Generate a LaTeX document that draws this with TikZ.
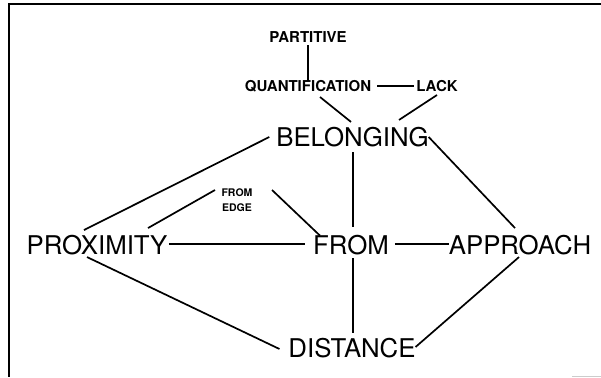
\documentclass[tikz,border=0pt]{standalone}
\usepackage{fontspec}
\setmainfont{TeX Gyre Heros}
\usetikzlibrary{calc}
\begin{document}
\begin{tikzpicture}[x=1pt,y=-1pt,
  big/.style={inner sep=0pt, outer sep=0pt, font=\fontsize{25.8}{30}\selectfont, text height=18.7pt, text depth=0pt},
  small/.style={inner sep=0pt, outer sep=0pt, font=\bfseries\fontsize{15}{18}\selectfont, text height=10.8pt, text depth=0pt},
  tiny/.style={inner sep=0pt, outer sep=0pt, font=\bfseries\fontsize{10.5}{15}\selectfont, align=center},
  link/.style={line width=1.7pt},
  frame/.style={line width=1.8pt}]
\useasboundingbox (0,0) rectangle (601,377);
% frame
\draw[frame] (8,4) -- (601,4);
\draw[frame] (9,4) -- (9,377);
\draw[gray!40, line width=0.8pt] (572,376) -- (601,376);
% nodes
\node[small] (part) at (308,37) {PARTITIVE};
\node[small] (quant) at (308,86) {QUANTIFICATION};
\node[small] (lack) at (437,86) {LACK};
\node[big] (bel) at (352.5,137) {BELONGING};
\node[tiny] (fe) at (237,200) {FROM\\EDGE};
\node[big] (prox) at (97,245) {PROXIMITY};
\node[big] (from) at (351,245) {FROM};
\node[big] (app) at (520,245) {APPROACH};
\node[big] (dist) at (352,348) {DISTANCE};
% connectors
\draw[link] ($(part.south)+(0,3)$) -- (quant.north);
\draw[link] ($(quant.east)+(6,0)$) -- ($(lack.west)+(-2,0)$);
\draw[link] ($(quant.south)+(12,5.6)$) -- ($(bel.north)+(-1.5,-5.7)$);
\draw[link] ($(lack.south)+(0,3.6)$) -- ($(bel.north)+(46.5,-7.7)$);
\draw[link] ($(bel.west)+(-7,0)$) -- ($(prox.north)+(-13,-5.6)$);
\draw[link] (bel.east) -- ($(app.north)+(-5,-7.6)$);
\draw[link] ($(bel.south)+(0.5,5.7)$) -- ($(from.north)+(2,-8.6)$);
\draw[link] ($(fe.center)+(-22,-10)$) -- ($(prox.north)+(51,-7.6)$);
\draw[link] ($(fe.center)+(35,-10)$) -- ($(from.north)+(-31,0)$);
\draw[link] ($(prox.east)+(1.5,-1)$) -- ($(from.west)+(-8,-1)$);
\draw[link] ($(from.east)+(6,-1)$) -- ($(app.west)+(0,-1)$);
\draw[link] ($(prox.south)+(-10,2.7)$) -- ($(dist.west)+(-9,1)$);
\draw[link] ($(from.south)+(2,3.7)$) -- ($(dist.north)+(1,-5.6)$);
\draw[link] ($(app.south)+(-1,2.7)$) -- ($(dist.east)+(0,-1)$);
\end{tikzpicture}
\end{document}
